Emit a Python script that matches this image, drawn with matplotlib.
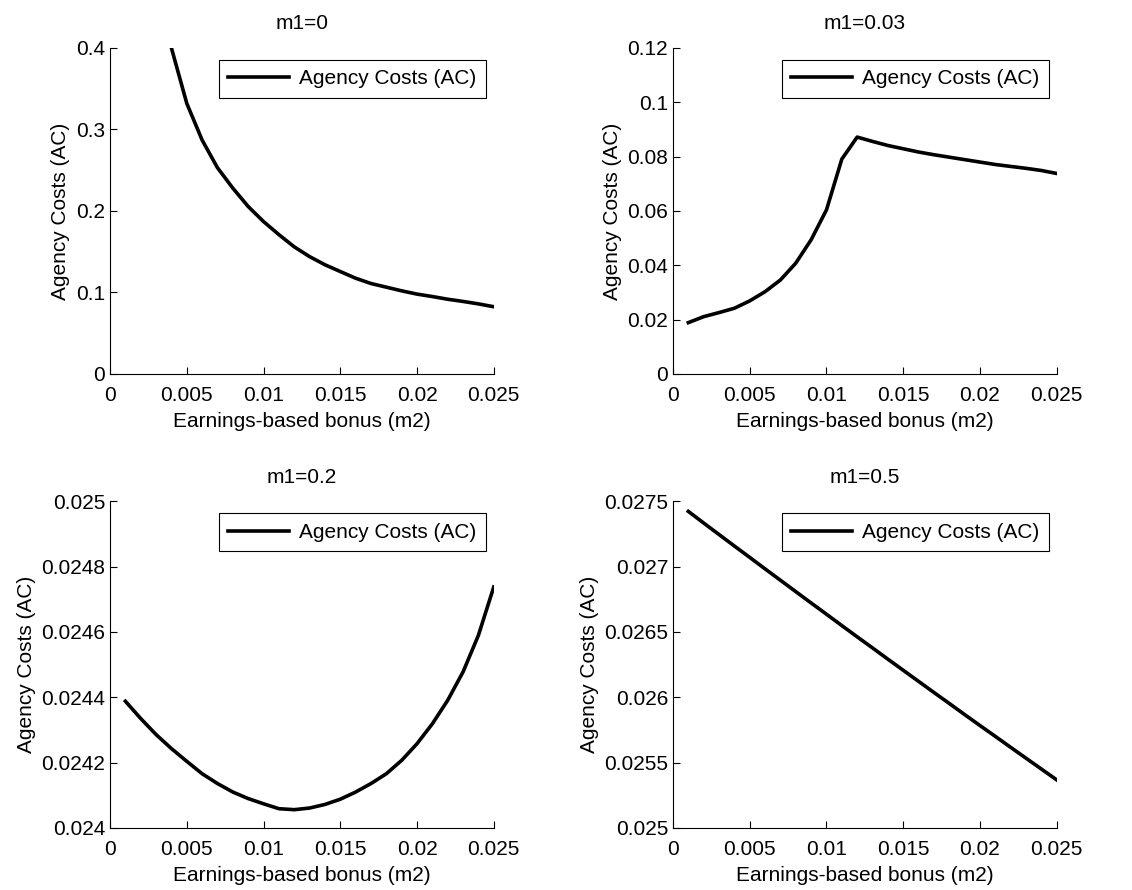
import matplotlib
matplotlib.use("Agg")
import matplotlib.pyplot as plt

plt.rcParams['font.family'] = ['Liberation Sans', 'DejaVu Sans']

# earnings-based bonus grid (m2)
m2 = [0.001, 0.002, 0.003, 0.004, 0.005, 0.006, 0.007, 0.008, 0.009, 0.010,
      0.011, 0.012, 0.013, 0.014, 0.015, 0.016, 0.017, 0.018, 0.019, 0.020,
      0.021, 0.022, 0.023, 0.024, 0.025]

# m1 = 0 (curve starts at m2 = 0.004)
m2_m1_0 = m2[3:]
ac_m1_0 = [0.400, 0.332, 0.287, 0.253, 0.228, 0.2055, 0.187, 0.171, 0.156,
           0.144, 0.134, 0.1257, 0.1175, 0.111, 0.1065, 0.102, 0.098, 0.095,
           0.0917, 0.089, 0.086, 0.0825]

# m1 = 0.03
ac_m1_003 = [0.0189, 0.0211, 0.0226, 0.0242, 0.0269, 0.0303, 0.0346, 0.0408,
             0.0494, 0.0604, 0.0791, 0.0872, 0.0856, 0.0841, 0.0829, 0.0817,
             0.0807, 0.0798, 0.0789, 0.0780, 0.0771, 0.0764, 0.0757, 0.0749,
             0.0738]

# m1 = 0.2
ac_m1_02 = [0.024388, 0.024335, 0.024286, 0.024243, 0.024204, 0.024166,
            0.024136, 0.024110, 0.024090, 0.024074, 0.024059, 0.024056,
            0.024061, 0.024072, 0.024088, 0.024110, 0.024136, 0.024166,
            0.024207, 0.024258, 0.024319, 0.024391, 0.024478, 0.024590,
            0.024738]

# m1 = 0.5
ac_m1_05 = [0.027423, 0.027334, 0.027246, 0.027158, 0.027071, 0.026983,
            0.026896, 0.026809, 0.026722, 0.026636, 0.026549, 0.026463,
            0.026378, 0.026292, 0.026207, 0.026122, 0.026037, 0.025953,
            0.025868, 0.025784, 0.025701, 0.025617, 0.025534, 0.025451,
            0.025368]

x_ticks = [0, 0.005, 0.01, 0.015, 0.02, 0.025]
x_labels = ['0', '0.005', '0.01', '0.015', '0.02', '0.025']

panels = [
    ("m1=0", m2_m1_0, ac_m1_0, [0, 0.1, 0.2, 0.3, 0.4],
     ['0', '0.1', '0.2', '0.3', '0.4']),
    ("m1=0.03", m2, ac_m1_003, [0, 0.02, 0.04, 0.06, 0.08, 0.1, 0.12],
     ['0', '0.02', '0.04', '0.06', '0.08', '0.1', '0.12']),
    ("m1=0.2", m2, ac_m1_02, [0.024, 0.0242, 0.0244, 0.0246, 0.0248, 0.025],
     ['0.024', '0.0242', '0.0244', '0.0246', '0.0248', '0.025']),
    ("m1=0.5", m2, ac_m1_05, [0.025, 0.0255, 0.026, 0.0265, 0.027, 0.0275],
     ['0.025', '0.0255', '0.026', '0.0265', '0.027', '0.0275']),
]

# axes positions [left, bottom, width, height] in figure fractions
positions = [
    [0.0972, 0.5798, 0.339, 0.3663],
    [0.5945, 0.5798, 0.339, 0.3663],
    [0.0972, 0.0697, 0.339, 0.3670],
    [0.5945, 0.0697, 0.339, 0.3670],
]

fs = 15

fig = plt.figure(figsize=(11.32, 8.9), dpi=100)

for (title, xs, ys, yt, yl), pos in zip(panels, positions):
    ax = fig.add_axes(pos)
    ax.plot(xs, ys, color='black', linewidth=2.6, label='Agency Costs (AC)')
    ax.set_xlim(0, 0.025)
    ax.set_ylim(yt[0], yt[-1])
    ax.set_xticks(x_ticks)
    ax.set_xticklabels(x_labels)
    ax.set_yticks(yt)
    ax.set_yticklabels(yl)
    ax.spines['top'].set_visible(False)
    ax.spines['right'].set_visible(False)
    ax.tick_params(direction='in', length=5, width=0.8, labelsize=fs)
    ax.tick_params(axis='x', pad=8.5)
    ax.set_title(title, fontsize=fs, pad=13.5)
    ax.set_xlabel("Earnings-based bonus (m2)", fontsize=fs, labelpad=5)
    ax.set_ylabel("Agency Costs (AC)", fontsize=fs, labelpad=4)
    leg = ax.legend(loc='upper right', fontsize=fs, fancybox=False,
                    framealpha=1, borderpad=0.45, handlelength=2.9,
                    handletextpad=0.5, borderaxespad=0,
                    bbox_to_anchor=(0.979, 0.963))
    leg.get_frame().set_edgecolor('black')
    leg.get_frame().set_linewidth(0.8)

fig.savefig("out.png", dpi=100)
